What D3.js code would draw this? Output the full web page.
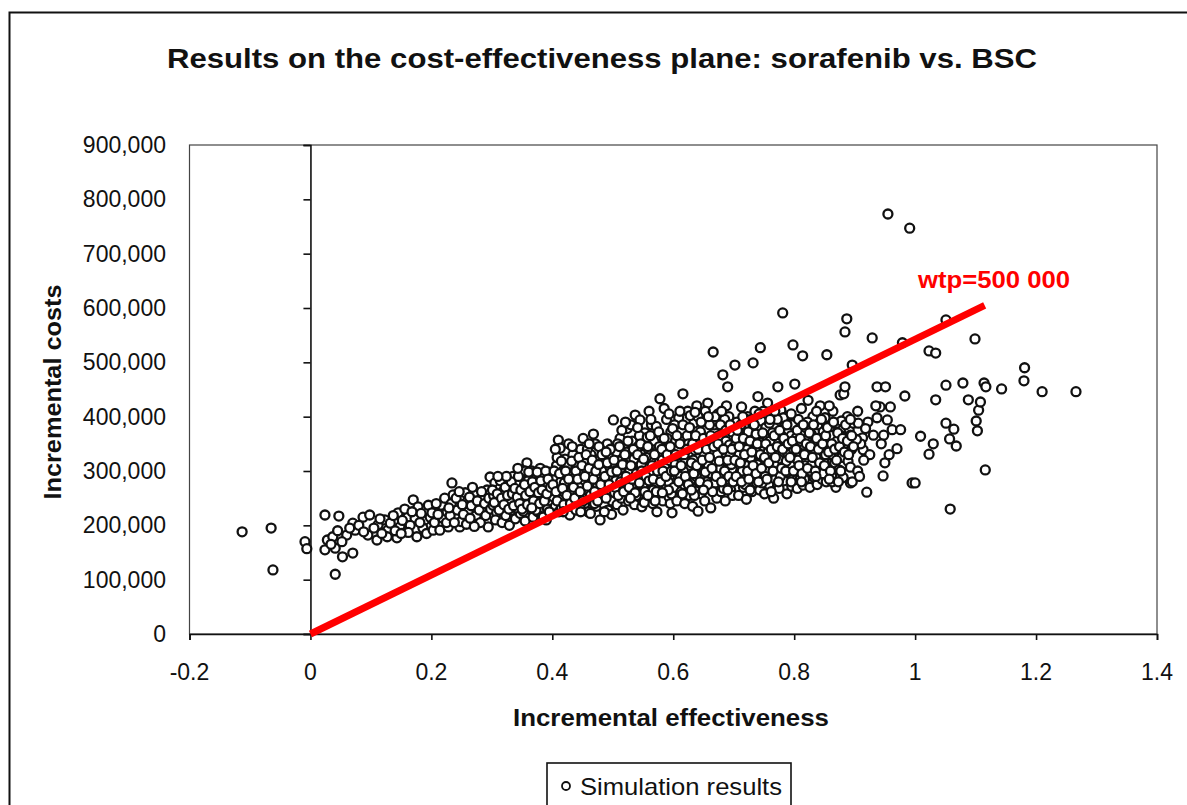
<!DOCTYPE html>
<html>
<head>
<meta charset="utf-8">
<script src="https://cdn.jsdelivr.net/npm/d3@7"></script>
<style>
  html, body { margin: 0; padding: 0; background: #fff; }
  svg { display: block; }
  text { font-family: "Liberation Sans", Arial, sans-serif; }
</style>
</head>
<body>
<svg id="chart" width="1187" height="805"></svg>
<script>
// ---------- DATA ----------
const title = "Results on the cost-effectiveness plane: sorafenib vs. BSC";
const xAxisTitle = "Incremental effectiveness";
const yAxisTitle = "Incremental costs";
const legendLabel = "Simulation results";
const wtpLabel = "wtp=500 000";

const xTicks = [-0.2, 0, 0.2, 0.4, 0.6, 0.8, 1, 1.2, 1.4];
const xTickLabels = ["-0.2", "0", "0.2", "0.4", "0.6", "0.8", "1", "1.2", "1.4"];
const yTicks = [0, 100000, 200000, 300000, 400000, 500000, 600000, 700000, 800000, 900000];
const yTickLabels = ["0", "100,000", "200,000", "300,000", "400,000", "500,000", "600,000", "700,000", "800,000", "900,000"];

// willingness-to-pay line as drawn: [effectiveness, cost]
const wtpLine = [[0, 0], [1.115, 605000]];

// simulation results: [incremental effectiveness, incremental cost in thousands]
const simBelowZero = [[-0.113,188],[-0.065,195],[-0.062,118],[-0.009,170],[-0.006,157]];
const sim00 = [[0.024,219],[0.047,217],[0.024,155],[0.028,173],[0.037,179],[0.041,158],[0.053,142],[0.070,149],[0.041,110],[0.060,182],[0.070,204],[0.087,215],[0.098,219],[0.074,191],[0.095,182],[0.052,170],[0.065,195],[0.080,200],[0.088,188],[0.034,165],[0.045,190]];
const sim10 = [[0.110,173],[0.112,201],[0.123,210],[0.128,191],[0.127,179],[0.143,177],[0.145,223],[0.148,197],[0.159,188],[0.161,215],[0.170,247],[0.173,213],[0.178,234],[0.176,179],[0.189,210],[0.195,237],[0.105,195],[0.118,185],[0.132,204],[0.137,218],[0.152,209],[0.156,230],[0.165,200],[0.168,225],[0.183,222],[0.186,195],[0.192,185],[0.198,215],[0.115,212],[0.140,190],[0.162,187],[0.181,205],[0.150,185]];
const sim20 = [[0.201,223],[0.203,191],[0.214,191],[0.217,237],[0.219,213],[0.226,225],[0.228,197],[0.234,278],[0.236,256],[0.239,234],[0.244,215],[0.247,197],[0.256,260],[0.259,243],[0.261,225],[0.269,210],[0.272,261],[0.284,232],[0.286,250],[0.292,265],[0.294,197],[0.297,289],[0.205,205],[0.208,240],[0.211,220],[0.222,250],[0.225,205],[0.231,218],[0.233,240],[0.241,250],[0.243,228],[0.249,207],[0.251,238],[0.253,220],[0.258,202],[0.263,252],[0.266,236],[0.268,270],[0.274,218],[0.276,245],[0.279,228],[0.281,205],[0.283,262],[0.288,240],[0.290,218],[0.295,250],[0.298,230],[0.229,232],[0.238,205],[0.246,262],[0.271,198],[0.264,213]];
const sim30 = [[0.302,237],[0.305,278],[0.308,223],[0.303,255],[0.306,210],[0.311,245],[0.313,268],[0.315,230],[0.317,205],[0.319,285],[0.321,252],[0.323,218],[0.325,240],[0.327,272],[0.329,200],[0.331,262],[0.333,228],[0.335,290],[0.337,248],[0.339,212],[0.341,275],[0.343,238],[0.345,258],[0.347,222],[0.349,295],[0.351,265],[0.353,242],[0.355,208],[0.357,280],[0.358,315],[0.360,250],[0.362,230],[0.364,268],[0.366,300],[0.368,215],[0.370,258],[0.372,240],[0.374,285],[0.376,225],[0.378,270],[0.380,305],[0.382,248],[0.384,232],[0.386,290],[0.388,262],[0.390,210],[0.392,278],[0.394,244],[0.396,298],[0.398,228],[0.360,282],[0.372,296],[0.385,275],[0.345,278],[0.330,246],[0.318,262],[0.352,226],[0.365,245],[0.378,255],[0.392,230],[0.399,262],[0.385,215],[0.355,300],[0.340,232]];
const sim40 = [[0.402,252],[0.404,288],[0.405,235],[0.407,310],[0.409,268],[0.410,357],[0.411,225],[0.413,342],[0.414,280],[0.416,248],[0.418,300],[0.419,262],[0.421,322],[0.423,240],[0.424,285],[0.426,270],[0.428,305],[0.429,219],[0.431,255],[0.433,292],[0.434,330],[0.436,245],[0.438,275],[0.440,312],[0.441,232],[0.443,262],[0.445,298],[0.447,340],[0.448,250],[0.450,280],[0.452,318],[0.453,238],[0.455,268],[0.457,302],[0.459,225],[0.460,258],[0.462,288],[0.464,330],[0.466,245],[0.467,275],[0.469,310],[0.471,350],[0.473,235],[0.474,262],[0.476,295],[0.478,322],[0.479,210],[0.481,250],[0.483,282],[0.485,340],[0.486,238],[0.488,268],[0.490,305],[0.492,228],[0.493,258],[0.495,292],[0.497,325],[0.499,245],[0.415,232],[0.425,310],[0.437,288],[0.444,270],[0.456,250],[0.465,292],[0.475,272],[0.487,318],[0.496,272],[0.408,325],[0.420,278],[0.432,262],[0.446,232],[0.458,340],[0.470,240],[0.482,300],[0.491,350],[0.427,350],[0.451,360],[0.468,368],[0.477,345],[0.498,220],[0.463,222],[0.439,228]];
const sim50 = [[0.501,394],[0.503,260],[0.504,300],[0.506,335],[0.507,238],[0.509,278],[0.511,318],[0.512,360],[0.514,250],[0.516,290],[0.517,228],[0.519,342],[0.521,268],[0.522,305],[0.524,378],[0.526,245],[0.527,285],[0.529,325],[0.531,258],[0.532,355],[0.534,298],[0.536,238],[0.537,403],[0.538,272],[0.540,315],[0.542,345],[0.543,255],[0.545,394],[0.546,290],[0.548,234],[0.549,330],[0.551,268],[0.553,370],[0.554,305],[0.556,248],[0.558,282],[0.559,340],[0.561,262],[0.563,318],[0.564,385],[0.566,240],[0.568,295],[0.569,355],[0.571,275],[0.573,225],[0.574,330],[0.576,258],[0.578,433],[0.579,305],[0.581,362],[0.583,245],[0.584,285],[0.586,340],[0.588,268],[0.589,395],[0.591,318],[0.593,252],[0.594,298],[0.596,372],[0.598,223],[0.599,335],[0.505,282],[0.515,375],[0.523,335],[0.533,275],[0.544,365],[0.552,242],[0.562,300],[0.572,382],[0.582,320],[0.592,280],[0.597,258],[0.508,350],[0.528,300],[0.539,255],[0.547,312],[0.557,362],[0.567,265],[0.577,345],[0.587,305],[0.595,240],[0.513,305],[0.535,322],[0.555,325],[0.575,290],[0.590,360],[0.560,410],[0.585,415],[0.530,385],[0.550,275],[0.570,245]];
const sim60 = [[0.601,270],[0.603,312],[0.604,355],[0.606,245],[0.608,290],[0.609,398],[0.611,330],[0.613,262],[0.614,375],[0.616,442],[0.617,300],[0.619,240],[0.621,345],[0.622,280],[0.624,410],[0.626,318],[0.627,255],[0.629,365],[0.631,295],[0.632,235],[0.634,388],[0.636,338],[0.637,270],[0.639,420],[0.641,226],[0.642,308],[0.644,355],[0.646,258],[0.647,395],[0.649,285],[0.651,330],[0.652,245],[0.654,375],[0.656,300],[0.657,425],[0.659,268],[0.661,348],[0.662,232],[0.664,390],[0.666,519],[0.667,315],[0.669,278],[0.671,360],[0.672,250],[0.674,405],[0.676,292],[0.677,338],[0.679,262],[0.681,380],[0.682,477],[0.684,318],[0.686,245],[0.687,355],[0.689,285],[0.690,455],[0.692,400],[0.694,330],[0.695,265],[0.697,372],[0.699,300],[0.602,385],[0.612,290],[0.623,365],[0.633,320],[0.643,278],[0.653,410],[0.663,295],[0.673,330],[0.683,268],[0.693,348],[0.607,340],[0.618,275],[0.628,402],[0.638,290],[0.648,345],[0.658,310],[0.668,385],[0.678,305],[0.688,420],[0.698,255],[0.615,258],[0.625,350],[0.635,255],[0.645,372],[0.655,280],[0.665,262],[0.675,365],[0.685,395],[0.696,312],[0.641,400],[0.620,320],[0.660,385]];
const sim70 = [[0.702,495],[0.701,345],[0.703,282],[0.705,390],[0.706,318],[0.708,255],[0.710,365],[0.711,298],[0.713,418],[0.715,335],[0.716,270],[0.718,380],[0.720,310],[0.721,248],[0.723,400],[0.725,350],[0.726,285],[0.728,325],[0.730,262],[0.731,375],[0.732,499],[0.733,305],[0.735,410],[0.736,340],[0.738,278],[0.740,437],[0.741,360],[0.743,265],[0.744,527],[0.745,320],[0.746,392],[0.748,295],[0.750,345],[0.751,258],[0.753,380],[0.755,310],[0.756,425],[0.758,275],[0.760,355],[0.761,330],[0.763,290],[0.765,398],[0.766,250],[0.768,338],[0.770,370],[0.771,302],[0.773,455],[0.775,268],[0.776,345],[0.778,412],[0.780,318],[0.781,591],[0.783,282],[0.785,385],[0.786,355],[0.788,258],[0.790,330],[0.791,402],[0.793,295],[0.795,365],[0.796,272],[0.798,532],[0.799,340],[0.704,360],[0.714,300],[0.724,372],[0.734,290],[0.744,352],[0.754,300],[0.764,370],[0.774,322],[0.784,345],[0.794,310],[0.709,330],[0.719,275],[0.729,395],[0.739,312],[0.749,410],[0.759,388],[0.769,285],[0.779,365],[0.789,298],[0.797,385],[0.712,385],[0.722,340],[0.737,368],[0.747,278],[0.757,335],[0.767,312],[0.777,290],[0.787,318],[0.792,350],[0.727,265],[0.752,290],[0.762,262],[0.782,398],[0.772,395]];
const sim80 = [[0.801,460],[0.802,300],[0.804,362],[0.805,268],[0.807,395],[0.809,330],[0.810,285],[0.812,415],[0.814,512],[0.815,274],[0.816,348],[0.818,310],[0.819,380],[0.821,292],[0.823,430],[0.824,335],[0.826,270],[0.828,368],[0.829,312],[0.831,400],[0.833,288],[0.834,352],[0.836,325],[0.838,275],[0.839,385],[0.841,300],[0.843,420],[0.844,340],[0.846,285],[0.848,372],[0.849,318],[0.851,398],[0.853,280],[0.854,514],[0.855,345],[0.857,305],[0.859,380],[0.860,330],[0.862,292],[0.864,410],[0.865,355],[0.867,315],[0.869,270],[0.870,388],[0.872,340],[0.874,302],[0.876,440],[0.877,365],[0.879,325],[0.881,288],[0.882,442],[0.884,556],[0.884,455],[0.886,350],[0.887,580],[0.888,400],[0.889,318],[0.891,375],[0.893,278],[0.893,307],[0.893,366],[0.895,340],[0.896,495],[0.896,280],[0.898,388],[0.811,355],[0.822,390],[0.832,340],[0.842,360],[0.852,330],[0.862,365],[0.827,300],[0.847,295],[0.863,280],[0.878,392],[0.806,320],[0.817,285],[0.837,410],[0.858,420],[0.871,355]];
const sim90 = [[0.906,388],[0.913,361],[0.914,339],[0.920,261],[0.922,390],[0.929,545],[0.931,366],[0.937,398],[0.937,455],[0.942,418],[0.947,291],[0.948,366],[0.950,315],[0.951,455],[0.954,394],[0.955,773],[0.957,330],[0.959,418],[0.962,376],[0.970,341],[0.976,376],[0.979,536],[0.983,438],[0.991,747],[0.995,278],[1.000,278],[0.905,410],[0.910,350],[0.918,378],[0.925,330],[0.935,420],[0.944,350],[0.905,300],[0.915,320],[0.903,358],[0.908,290]];
const sim100 = [[1.009,364],[1.023,521],[1.023,331],[1.030,350],[1.034,517],[1.034,431],[1.051,578],[1.051,458],[1.051,388],[1.057,359],[1.058,230],[1.064,377],[1.068,346],[1.079,462],[1.088,431],[1.099,543],[1.101,392],[1.103,374],[1.105,412],[1.108,427],[1.114,462],[1.116,302],[1.117,455],[1.143,451],[1.180,466],[1.181,490],[1.210,446],[1.266,446]];
// dense core of the cloud
const core30 = [[0.301,265],[0.304,242],[0.309,258],[0.312,228],[0.314,282],[0.316,250],[0.320,238],[0.322,270],[0.326,255],[0.328,230],[0.332,280],[0.334,258],[0.336,236],[0.338,268],[0.342,252],[0.344,290],[0.346,240],[0.348,265],[0.350,230],[0.354,275],[0.356,255],[0.359,238],[0.361,298],[0.363,262],[0.367,280],[0.369,245],[0.371,270],[0.373,228],[0.375,298],[0.377,260],[0.379,240],[0.381,282],[0.383,265],[0.387,245],[0.389,300],[0.391,258],[0.393,285],[0.395,225],[0.397,270],[0.366,232],[0.343,305],[0.324,290],[0.310,290]];
const core40 = [[0.401,275],[0.403,300],[0.406,262],[0.408,245],[0.412,295],[0.415,318],[0.417,268],[0.419,238],[0.422,300],[0.424,255],[0.427,285],[0.430,240],[0.432,318],[0.435,270],[0.437,250],[0.439,300],[0.442,285],[0.444,325],[0.446,262],[0.449,310],[0.451,245],[0.454,290],[0.456,330],[0.458,272],[0.461,305],[0.463,255],[0.466,320],[0.468,285],[0.470,262],[0.472,300],[0.475,245],[0.477,312],[0.480,275],[0.482,330],[0.484,258],[0.487,290],[0.489,250],[0.491,315],[0.494,275],[0.496,340],[0.498,298],[0.405,340],[0.433,345],[0.461,350],[0.489,335],[0.418,225],[0.447,225],[0.486,225]];
const core50 = [[0.502,320],[0.504,270],[0.507,300],[0.509,255],[0.511,345],[0.513,280],[0.516,312],[0.518,262],[0.520,330],[0.522,290],[0.525,355],[0.527,270],[0.530,310],[0.532,285],[0.534,340],[0.537,260],[0.539,295],[0.541,330],[0.544,278],[0.546,350],[0.548,300],[0.551,322],[0.553,262],[0.555,290],[0.558,345],[0.560,282],[0.562,365],[0.565,310],[0.567,285],[0.569,330],[0.572,262],[0.574,300],[0.576,372],[0.579,280],[0.581,340],[0.583,300],[0.585,360],[0.588,290],[0.590,330],[0.592,265],[0.595,345],[0.597,300],[0.599,378],[0.521,390],[0.541,380],[0.563,395],[0.593,405],[0.529,250],[0.558,255],[0.582,260]];
const core60 = [[0.602,300],[0.604,330],[0.606,365],[0.609,280],[0.611,350],[0.613,310],[0.616,385],[0.618,330],[0.620,290],[0.623,340],[0.625,275],[0.627,380],[0.630,315],[0.632,350],[0.634,295],[0.637,365],[0.639,310],[0.641,340],[0.644,280],[0.646,390],[0.648,320],[0.650,360],[0.653,298],[0.655,340],[0.657,275],[0.660,325],[0.662,365],[0.664,305],[0.667,345],[0.669,400],[0.671,290],[0.674,350],[0.676,318],[0.678,385],[0.680,280],[0.683,340],[0.685,300],[0.687,375],[0.690,320],[0.692,290],[0.694,385],[0.697,340],[0.699,280],[0.611,410],[0.636,408],[0.658,400],[0.680,410],[0.630,265],[0.650,265],[0.690,265]];
const core70 = [[0.702,320],[0.704,290],[0.706,375],[0.709,345],[0.711,315],[0.713,280],[0.716,360],[0.718,330],[0.720,395],[0.723,300],[0.725,285],[0.727,355],[0.730,335],[0.732,310],[0.734,385],[0.737,295],[0.739,350],[0.741,280],[0.744,330],[0.746,305],[0.748,370],[0.751,325],[0.753,350],[0.755,285],[0.758,315],[0.760,395],[0.762,340],[0.765,300],[0.767,365],[0.769,325],[0.772,345],[0.774,280],[0.776,375],[0.779,305],[0.781,340],[0.783,360],[0.786,300],[0.788,385],[0.790,350],[0.793,325],[0.795,280],[0.797,355],[0.799,300],[0.715,400],[0.742,405],[0.768,410],[0.795,405]];
const core80 = [[0.803,340],[0.805,375],[0.808,310],[0.810,360],[0.813,295],[0.815,385],[0.817,330],[0.820,350],[0.822,305],[0.825,370],[0.827,345],[0.830,325],[0.832,385],[0.835,300],[0.837,360],[0.840,340],[0.842,315],[0.845,395],[0.847,350],[0.850,310],[0.852,365],[0.855,380],[0.857,335],[0.860,300],[0.862,350],[0.865,390],[0.867,340],[0.870,320],[0.872,370],[0.875,345],[0.877,300],[0.880,360],[0.883,335],[0.885,385],[0.888,355],[0.890,330],[0.893,395],[0.895,365],[0.898,345],[0.812,280],[0.836,290],[0.858,285],[0.873,280]];

const simulationResults = [].concat(simBelowZero, sim00, sim10, sim20, sim30, sim40, sim50, sim60, sim70, sim80, sim90, sim100,
    core30, core40, core50, core60, core70, core80)
  .map(d => ({ effect: d[0], cost: d[1] * 1000 }));

// ---------- LAYOUT ----------
const svg = d3.select("#chart");
const plot = { left: 189.5, right: 1157, top: 145, bottom: 634 };

const x = d3.scaleLinear().domain([-0.2, 1.4]).range([plot.left, plot.right]);
const y = d3.scaleLinear().domain([0, 900000]).range([plot.bottom, plot.top]);

svg.append("rect").attr("width", 1187).attr("height", 805).attr("fill", "#fff");

// outer frame (extends past the right and bottom edges)
svg.append("rect")
  .attr("x", 9.5).attr("y", 12.5).attr("width", 1200).attr("height", 820)
  .attr("fill", "none").attr("stroke", "#111").attr("stroke-width", 2);

// title
svg.append("text")
  .attr("x", 602).attr("y", 68)
  .attr("text-anchor", "middle")
  .attr("font-size", 28).attr("font-weight", "bold").attr("fill", "#111")
  .attr("textLength", 870).attr("lengthAdjust", "spacingAndGlyphs")
  .text(title);

// plot area border
svg.append("rect")
  .attr("x", plot.left).attr("y", plot.top)
  .attr("width", plot.right - plot.left).attr("height", plot.bottom - plot.top)
  .attr("fill", "none").attr("stroke", "#444").attr("stroke-width", 1.2);

// y axis at x = 0
const yAxis = d3.axisLeft(y).tickValues(yTicks).tickSize(7).tickFormat("");
svg.append("g").attr("transform", `translate(${x(0)},0)`).call(yAxis)
  .call(g => g.selectAll("path,line").attr("stroke", "#111").attr("stroke-width", 1.6));

// x axis at y = 0
const xAxis = d3.axisBottom(x).tickValues(xTicks).tickSize(6).tickFormat("");
svg.append("g").attr("transform", `translate(0,${y(0)})`).call(xAxis)
  .call(g => g.selectAll("path,line").attr("stroke", "#111").attr("stroke-width", 1.6));

// y tick labels
svg.append("g").selectAll("text").data(yTicks).join("text")
  .attr("x", 166).attr("y", d => y(d) + 8)
  .attr("text-anchor", "end").attr("font-size", 23).attr("fill", "#111")
  .text((d, i) => yTickLabels[i]);

// x tick labels
svg.append("g").selectAll("text").data(xTicks).join("text")
  .attr("x", d => x(d)).attr("y", 680)
  .attr("text-anchor", "middle").attr("font-size", 23).attr("fill", "#111")
  .text((d, i) => xTickLabels[i]);

// axis titles
svg.append("text")
  .attr("x", 671).attr("y", 726)
  .attr("text-anchor", "middle").attr("font-size", 24).attr("font-weight", "bold").attr("fill", "#111")
  .attr("textLength", 316).attr("lengthAdjust", "spacingAndGlyphs")
  .text(xAxisTitle);

svg.append("text")
  .attr("transform", "translate(61,392) rotate(-90)")
  .attr("text-anchor", "middle").attr("font-size", 24).attr("font-weight", "bold").attr("fill", "#111")
  .attr("textLength", 215).attr("lengthAdjust", "spacingAndGlyphs")
  .text(yAxisTitle);

// points
svg.append("g").selectAll("circle").data(simulationResults).join("circle")
  .attr("cx", d => x(d.effect)).attr("cy", d => y(d.cost))
  .attr("r", 4.5)
  .attr("fill", "#fff").attr("stroke", "#111").attr("stroke-width", 2.3);

// wtp line
svg.append("line")
  .attr("x1", x(wtpLine[0][0])).attr("y1", y(wtpLine[0][1]))
  .attr("x2", x(wtpLine[1][0])).attr("y2", y(wtpLine[1][1]))
  .attr("stroke", "#ff0000").attr("stroke-width", 7);

svg.append("text")
  .attr("x", 918).attr("y", 288)
  .attr("font-size", 24).attr("font-weight", "bold").attr("fill", "#ff0000")
  .attr("textLength", 152).attr("lengthAdjust", "spacingAndGlyphs")
  .text(wtpLabel);

// legend
svg.append("rect")
  .attr("x", 547).attr("y", 763).attr("width", 244).attr("height", 60)
  .attr("fill", "#fff").attr("stroke", "#111").attr("stroke-width", 1.6);
svg.append("circle")
  .attr("cx", 566).attr("cy", 786).attr("r", 4)
  .attr("fill", "#fff").attr("stroke", "#111").attr("stroke-width", 1.8);
svg.append("text")
  .attr("x", 580).attr("y", 795)
  .attr("font-size", 24).attr("fill", "#111")
  .attr("textLength", 202).attr("lengthAdjust", "spacingAndGlyphs")
  .text(legendLabel);
</script>
</body>
</html>
